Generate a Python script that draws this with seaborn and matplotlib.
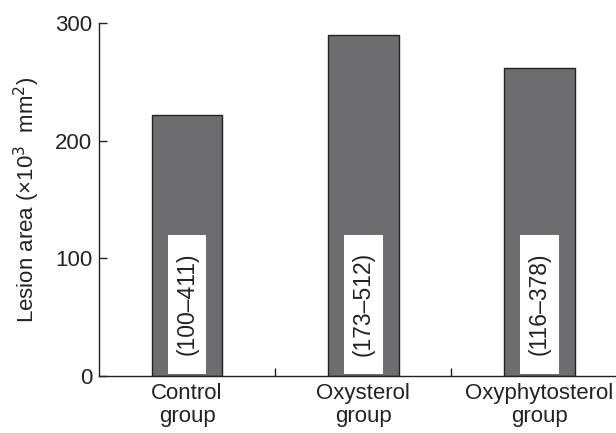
import matplotlib
matplotlib.use("Agg")
import matplotlib.pyplot as plt
import seaborn as sns
import pandas as pd

groups = ["Control\ngroup", "Oxysterol\ngroup", "Oxyphytosterol\ngroup"]
lesion_area = [222, 290, 262]
range_labels = ["(100\u2013411)", "(173\u2013512)", "(116\u2013378)"]
box_low = [2, 2, 2]
box_high = [120, 120, 120]
y_ticks = [0, 100, 200, 300]

sns.set_style("ticks")
plt.rcParams["font.family"] = ["Liberation Sans", "DejaVu Sans"]

df = pd.DataFrame({"group": groups, "area": lesion_area})

fig = plt.figure(figsize=(6.16, 4.33), dpi=100)
ax = fig.add_axes([0.1607, 0.1316, 0.839, 0.8154])

sns.barplot(data=df, x="group", y="area", color="#6d6d6f", saturation=1,
            width=0.40, edgecolor="#222222", linewidth=1.0, ax=ax)

# white boxes holding the ranges
xs = list(range(len(groups)))
ax.bar(xs, [h - l for h, l in zip(box_high, box_low)], bottom=box_low,
       width=0.22, color="white", edgecolor="none", zorder=3)
for x, lab, lo, hi in zip(xs, range_labels, box_low, box_high):
    ax.text(x, (lo + hi) / 2, lab, rotation=90, ha="center", va="center",
            fontsize=16.5, color="#222222", zorder=4)

ax.set_xlim(-0.5, 2.433)
ax.set_ylim(0, 300)
ax.set_yticks(y_ticks)
ax.set_xticks(xs)
ax.set_xticklabels(groups, fontsize=16, color="#222222", linespacing=1.1)
ax.set_xticks([0.5, 1.5], minor=True)
ax.tick_params(axis="x", which="major", length=0, pad=5)
ax.tick_params(axis="x", which="minor", direction="in", length=6, width=1, color="#222222")
ax.tick_params(axis="y", direction="in", length=6, width=1, labelsize=16,
               color="#222222", labelcolor="#222222", pad=5)

ax.set_xlabel("")
ax.set_ylabel("Lesion area (\u00d710$^3$  mm$^2$)", fontsize=16, color="#222222", labelpad=9)

for s in ["top", "right"]:
    ax.spines[s].set_visible(False)
for s in ["left", "bottom"]:
    ax.spines[s].set_color("#222222")
    ax.spines[s].set_linewidth(1.0)

fig.savefig("out.png", dpi=100)
